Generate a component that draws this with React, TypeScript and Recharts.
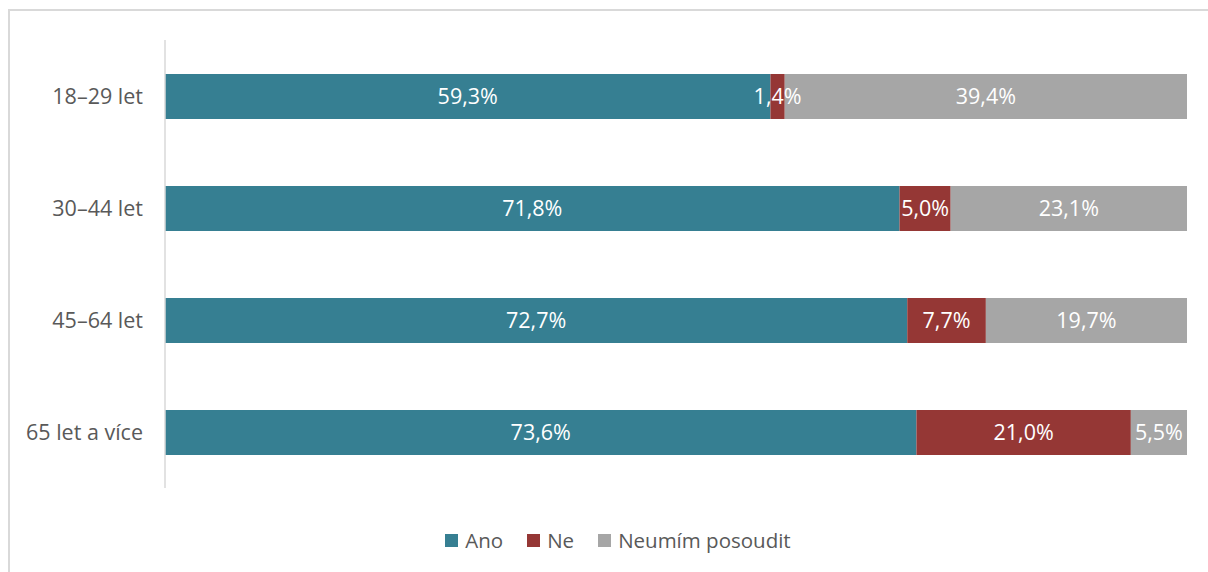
import React from "react";
import { BarChart, Bar, XAxis, YAxis, Legend, LabelList } from "recharts";

const categories = ["18–29 let", "30–44 let", "45–64 let", "65 let a více"];
const ano = [59.3, 71.8, 72.7, 73.6];
const ne = [1.4, 5.0, 7.7, 21.0];
const neumim = [39.4, 23.1, 19.7, 5.5];
const seriesNames = ["Ano", "Ne", "Neumím posoudit"];
const colors = ["#367F92", "#953735", "#A6A6A6"];

const data = categories.map((c, i) => ({
  cat: c,
  ano: ano[i],
  ne: ne[i],
  neumim: neumim[i],
}));

const FONT = "'Open Sans', 'Liberation Sans', sans-serif";
const fmt = (v: any) => `${Number(v).toFixed(1).replace(".", ",")}%`;

const labelStyle = { fill: "#FFFFFF", fontSize: 21.5, fontFamily: FONT };

const renderLegend = (props: any) => {
  const payload = props.payload || [];
  return (
    <div
      style={{
        display: "flex",
        justifyContent: "center",
        alignItems: "center",
        fontFamily: FONT,
        fontSize: 20.5,
        color: "#595959",
        lineHeight: "28px",
        paddingLeft: 20,
      }}
    >
      {payload.map((p: any, i: number) => (
        <div key={i} style={{ display: "flex", alignItems: "center", marginRight: i < payload.length - 1 ? 24 : 0 }}>
          <span style={{ display: "inline-block", width: 13, height: 13, background: p.color, marginRight: 7 }} />
          <span>{p.value}</span>
        </div>
      ))}
    </div>
  );
};

export default function App() {
  return (
    <div
      style={{
        position: "fixed",
        left: 0,
        top: 0,
        width: 1208,
        height: 572,
        overflow: "hidden",
        background: "#FFFFFF",
        fontFamily: FONT,
      }}
    >
      <div
        style={{
          position: "absolute",
          left: 8,
          top: 9,
          width: 1300,
          height: 700,
          border: "2px solid #D9D9D9",
          boxSizing: "border-box",
        }}
      />
      <div style={{ position: "absolute", left: 8, top: 8, width: 1200, height: 556 }}>
        <BarChart
          width={1200}
          height={556}
          data={data}
          layout="vertical"
          stackOffset="expand"
          margin={{ top: 32, right: 21, bottom: 76, left: 0 }}
        >
          <XAxis type="number" hide domain={[0, 1]} />
          <YAxis
            type="category"
            dataKey="cat"
            width={157}
            axisLine={{ stroke: "#D9D9D9", strokeWidth: 1.5 }}
            tickLine={false}
            tickSize={0}
            tickMargin={22}
            tick={{ fill: "#595959", fontSize: 21.5, fontFamily: FONT }}
          />
          <Legend
            verticalAlign="bottom"
            align="center"
            content={renderLegend}
            wrapperStyle={{ position: "absolute", top: 518, left: 0, width: 1200, height: 0 }}
          />
          <Bar dataKey="ano" name={seriesNames[0]} stackId="a" fill={colors[0]} barSize={45} isAnimationActive={false}>
            <LabelList dataKey="ano" position="center" formatter={fmt} style={labelStyle} />
          </Bar>
          <Bar dataKey="ne" name={seriesNames[1]} stackId="a" fill={colors[1]} barSize={45} isAnimationActive={false}>
            <LabelList dataKey="ne" position="center" formatter={fmt} style={labelStyle} />
          </Bar>
          <Bar dataKey="neumim" name={seriesNames[2]} stackId="a" fill={colors[2]} barSize={45} isAnimationActive={false}>
            <LabelList dataKey="neumim" position="center" formatter={fmt} style={labelStyle} />
          </Bar>
        </BarChart>
      </div>
    </div>
  );
}
